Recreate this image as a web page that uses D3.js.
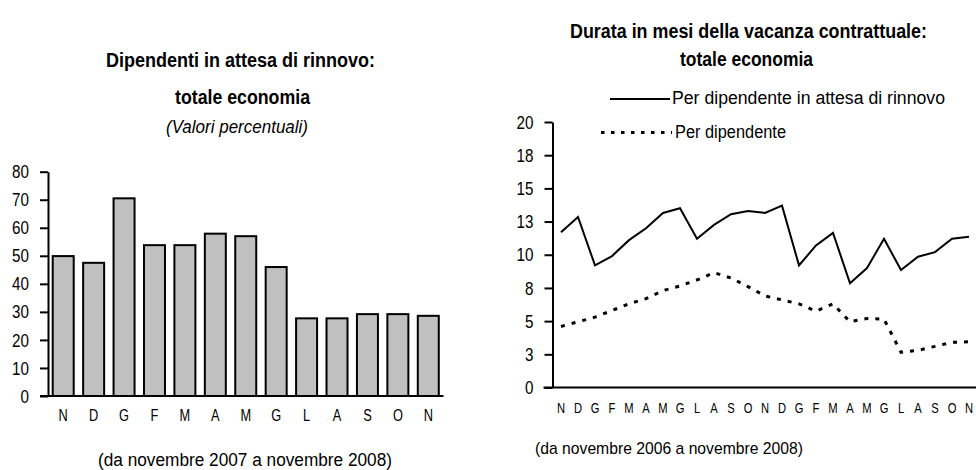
<!DOCTYPE html>
<html>
<head>
<meta charset="utf-8">
<script src="https://cdn.jsdelivr.net/npm/d3@7"></script>
<style>
  body { margin: 0; background: #fff; }
  svg { display: block; }
  text { font-family: "Liberation Sans Narrow", "Arial Narrow", "Liberation Sans", Arial, sans-serif; fill: #000; }
</style>
</head>
<body>
<div id="container"></div>
<script>
// left chart: share of employees waiting for renewal (nov 2007 - nov 2008)
const barMonths = ['N', 'D', 'G', 'F', 'M', 'A', 'M', 'G', 'L', 'A', 'S', 'O', 'N']
const barValues = [49.9, 47.5, 70.5, 53.8, 53.8, 57.9, 57.0, 46.0, 27.7, 27.7, 29.2, 29.2, 28.6]
const barTicks = [0, 10, 20, 30, 40, 50, 60, 70, 80]

// right chart: months of contract vacancy (nov 2006 - nov 2008)
const lineMonths = ['N', 'D', 'G', 'F', 'M', 'A', 'M', 'G', 'L', 'A', 'S', 'O',
                    'N', 'D', 'G', 'F', 'M', 'A', 'M', 'G', 'L', 'A', 'S', 'O', 'N']
const waitingValues = [11.7, 12.85, 9.2, 9.9, 11.1, 12.0, 13.15, 13.5, 11.2, 12.25, 13.05, 13.3,
                       13.15, 13.7, 9.2, 10.7, 11.65, 7.85, 9.0, 11.2, 8.85, 9.85, 10.2, 11.2, 11.35]
const allValues = [4.6, 4.95, 5.3, 5.8, 6.3, 6.7, 7.3, 7.65, 8.1, 8.65, 8.25, 7.6,
                   6.9, 6.6, 6.3, 5.75, 6.3, 4.95, 5.2, 5.15, 2.65, 2.8, 3.1, 3.4, 3.45]
const lineTicks = [0, 2.5, 5, 7.5, 10, 12.5, 15, 17.5, 20]
const lineTickLabels = ['0', '3', '5', '8', '10', '13', '15', '18', '20']

const w = 976
const h = 470
const narrow = 0.8   // no Arial Narrow installed: squeeze glyphs instead

const svg = d3.select('#container')
    .append('svg')
    .attr('width', w)
    .attr('height', h)

// centered text, forced to the width measured on the original
function label(x, y, txt, size, len, opts = {}) {
    return svg.append('text')
        .attr('x', x)
        .attr('y', y)
        .attr('text-anchor', opts.anchor || 'middle')
        .attr('font-size', size)
        .attr('font-weight', opts.bold ? 'bold' : 'normal')
        .attr('font-style', opts.italic ? 'italic' : 'normal')
        .attr('textLength', len)
        .attr('lengthAdjust', 'spacingAndGlyphs')
        .text(txt)
}

function squeeze(sel) {
    sel.each(function () {
        const l = this.getComputedTextLength()
        d3.select(this).attr('textLength', l * narrow).attr('lengthAdjust', 'spacingAndGlyphs')
    })
}

// ---------- left: bars ----------
const bx = d3.scaleBand(d3.range(barMonths.length), [48, 443.5])
const by = d3.scaleLinear([0, 80], [396, 171.7])
const barW = bx.bandwidth() * 0.69

svg.append('g')
    .selectAll('rect')
    .data(barValues)
    .join('rect')
    .attr('x', (d, i) => bx(i) + (bx.bandwidth() - barW) / 2)
    .attr('y', d => by(d))
    .attr('width', barW)
    .attr('height', d => by(0) - by(d))
    .attr('fill', '#c0c0c0')
    .attr('stroke', '#000')
    .attr('stroke-width', 2)

const byAxis = svg.append('g')
    .attr('transform', `translate(${bx.range()[0]},0)`)
    .call(d3.axisLeft(by).tickValues(barTicks).tickSize(8).tickSizeOuter(0).tickPadding(11))
byAxis.selectAll('text').attr('font-size', 19).attr('font-family', null).call(squeeze)
byAxis.selectAll('line, path').attr('stroke', '#000').attr('stroke-width', 2)

svg.append('line')
    .attr('x1', bx.range()[0] - 8).attr('x2', bx.range()[1])
    .attr('y1', by(0)).attr('y2', by(0))
    .attr('stroke', '#000').attr('stroke-width', 2)

svg.append('g')
    .selectAll('text')
    .data(barMonths)
    .join('text')
    .attr('x', (d, i) => bx(i) + bx.bandwidth() / 2)
    .attr('y', 421)
    .attr('text-anchor', 'middle')
    .attr('font-size', 16)
    .text(d => d)
    .call(squeeze)

label(240.5, 67, 'Dipendenti in attesa di rinnovo:', 20, 269, { bold: true })
label(242.5, 104, 'totale economia', 20, 135, { bold: true })
label(237, 133, '(Valori percentuali)', 19, 142, { italic: true })
label(245, 466, '(da novembre  2007 a novembre  2008)', 18, 294)

// ---------- right: lines ----------
const lx = d3.scaleBand(d3.range(lineMonths.length), [552.5, 977.5])
const ly = d3.scaleLinear([0, 20], [387.5, 122])
const cx = i => lx(i) + lx.bandwidth() / 2

const lineGen = d3.line()
    .x((d, i) => cx(i))
    .y(d => ly(d))

svg.append('path')
    .datum(waitingValues)
    .attr('d', lineGen)
    .attr('fill', 'none')
    .attr('stroke', '#000')
    .attr('stroke-width', 2)

svg.append('path')
    .datum(allValues)
    .attr('d', lineGen)
    .attr('fill', 'none')
    .attr('stroke', '#000')
    .attr('stroke-width', 3)
    .attr('stroke-dasharray', '4,7')

const lyAxis = svg.append('g')
    .attr('transform', `translate(${lx.range()[0]},0)`)
    .call(d3.axisLeft(ly).tickValues(lineTicks).tickFormat((d, i) => lineTickLabels[i])
        .tickSize(8).tickSizeOuter(0).tickPadding(11))
lyAxis.selectAll('text').attr('font-size', 19).attr('font-family', null).call(squeeze)
lyAxis.selectAll('line, path').attr('stroke', '#000').attr('stroke-width', 2)

svg.append('line')
    .attr('x1', lx.range()[0] - 9).attr('x2', lx.range()[1])
    .attr('y1', ly(0)).attr('y2', ly(0))
    .attr('stroke', '#000').attr('stroke-width', 2)

svg.append('g')
    .selectAll('text')
    .data(lineMonths)
    .join('text')
    .attr('x', (d, i) => cx(i))
    .attr('y', 413)
    .attr('text-anchor', 'middle')
    .attr('font-size', 14)
    .text(d => d)
    .call(squeeze)

label(748.5, 38, 'Durata in mesi della vacanza contrattuale:', 20, 357, { bold: true })
label(746.5, 66, 'totale economia', 20, 133, { bold: true })
label(535, 454, '(da novembre 2006 a novembre 2008)', 17, 268, { anchor: 'start' })

// legend
const legend = svg.append('g').attr('id', 'legend')
legend.append('line')
    .attr('x1', 610).attr('x2', 670).attr('y1', 99).attr('y2', 99)
    .attr('stroke', '#000').attr('stroke-width', 2)
legend.append('text')
    .attr('x', 672).attr('y', 104).attr('font-size', 18)
    .attr('textLength', 273).attr('lengthAdjust', 'spacingAndGlyphs')
    .text('Per dipendente in attesa di rinnovo')
legend.append('line')
    .attr('x1', 601).attr('x2', 672).attr('y1', 132.5).attr('y2', 132.5)
    .attr('stroke', '#000').attr('stroke-width', 3).attr('stroke-dasharray', '3.5,6.5')
legend.append('text')
    .attr('x', 675).attr('y', 138).attr('font-size', 18)
    .attr('textLength', 111).attr('lengthAdjust', 'spacingAndGlyphs')
    .text('Per dipendente')
</script>
</body>
</html>
